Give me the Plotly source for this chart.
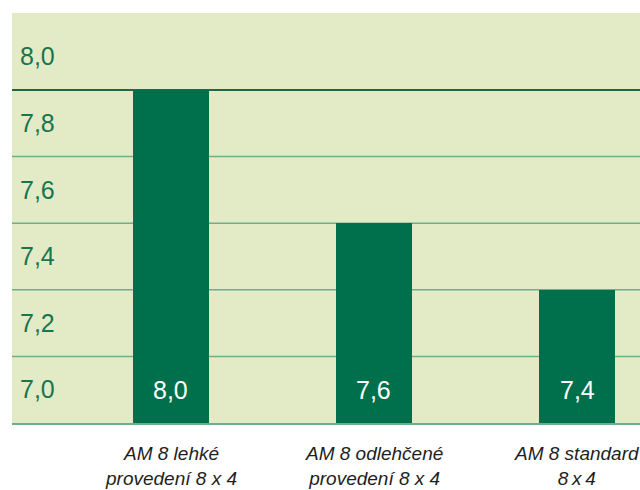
import plotly.graph_objects as go

categories = ["AM 8 lehké<br>provedení 8 x 4", "AM 8 odlehčené<br>provedení 8 x 4", "AM 8 standard<br>8\u2009x\u20094"]
values = [8.0, 7.6, 7.4]
value_labels = ["8,0", "7,6", "7,4"]
tick_values = [7.1, 7.3, 7.5, 7.7, 7.9, 8.1]
tick_labels = ["7,0", "7,2", "7,4", "7,6", "7,8", "8,0"]
grid_values = [7.2, 7.4, 7.6, 7.8]
axis_min = 7.0
top_line = 8.0

BG = "#e3eac6"
BAR = "#00704c"
TXT = "#177550"
GRID = "#6fae88"
DARK = "#1c6a45"
FONT = "Liberation Sans Narrow, Arial Narrow, Liberation Sans, Arial, sans-serif"

x = list(range(len(categories)))

fig = go.Figure()
fig.add_trace(go.Bar(x=x, y=values, marker=dict(color=BAR, line=dict(width=0)),
                     width=0.374, hoverinfo="skip"))

for xi, lab in zip(x, value_labels):
    fig.add_annotation(x=xi, y=tick_values[0], text=lab, showarrow=False,
                       font=dict(family=FONT, size=25, color="white"),
                       xanchor="center", yanchor="middle")

for xi, cat in zip(x, categories):
    fig.add_annotation(x=xi, xref="x", y=0, yref="paper", yshift=-18, text=cat,
                       showarrow=False, xanchor="center", yanchor="top", align="center",
                       font=dict(family=FONT, size=19, color="#1e1e1e", style="italic"))

for g in grid_values:
    fig.add_shape(type="line", xref="paper", x0=0, x1=1, yref="y", y0=g, y1=g,
                  line=dict(color=GRID, width=1.5), layer="below")
fig.add_shape(type="line", xref="paper", x0=0, x1=1, yref="y", y0=top_line, y1=top_line,
              line=dict(color=DARK, width=2), layer="below")

fig.update_layout(
    width=640, height=490,
    margin=dict(l=12, r=0, t=13, b=67, autoexpand=False),
    paper_bgcolor="white", plot_bgcolor=BG,
    showlegend=False, bargap=0,
    xaxis=dict(range=[-0.78, 2.31], tickvals=x, showticklabels=False, automargin=False,
               showgrid=False, zeroline=False, showline=True, linecolor=GRID, linewidth=2,
               ticks=""),
    yaxis=dict(range=[axis_min, 8.231], tickvals=tick_values, ticktext=tick_labels,
               ticklabelposition="inside", ticklabelstandoff=5, ticks="", showgrid=False,
               zeroline=False, showline=False, automargin=False,
               tickfont=dict(family=FONT, size=25, color=TXT)),
)

fig.write_html("out.html", config={"displayModeBar": False},
               post_script="document.body.style.margin='0';document.body.style.overflow='hidden';")
